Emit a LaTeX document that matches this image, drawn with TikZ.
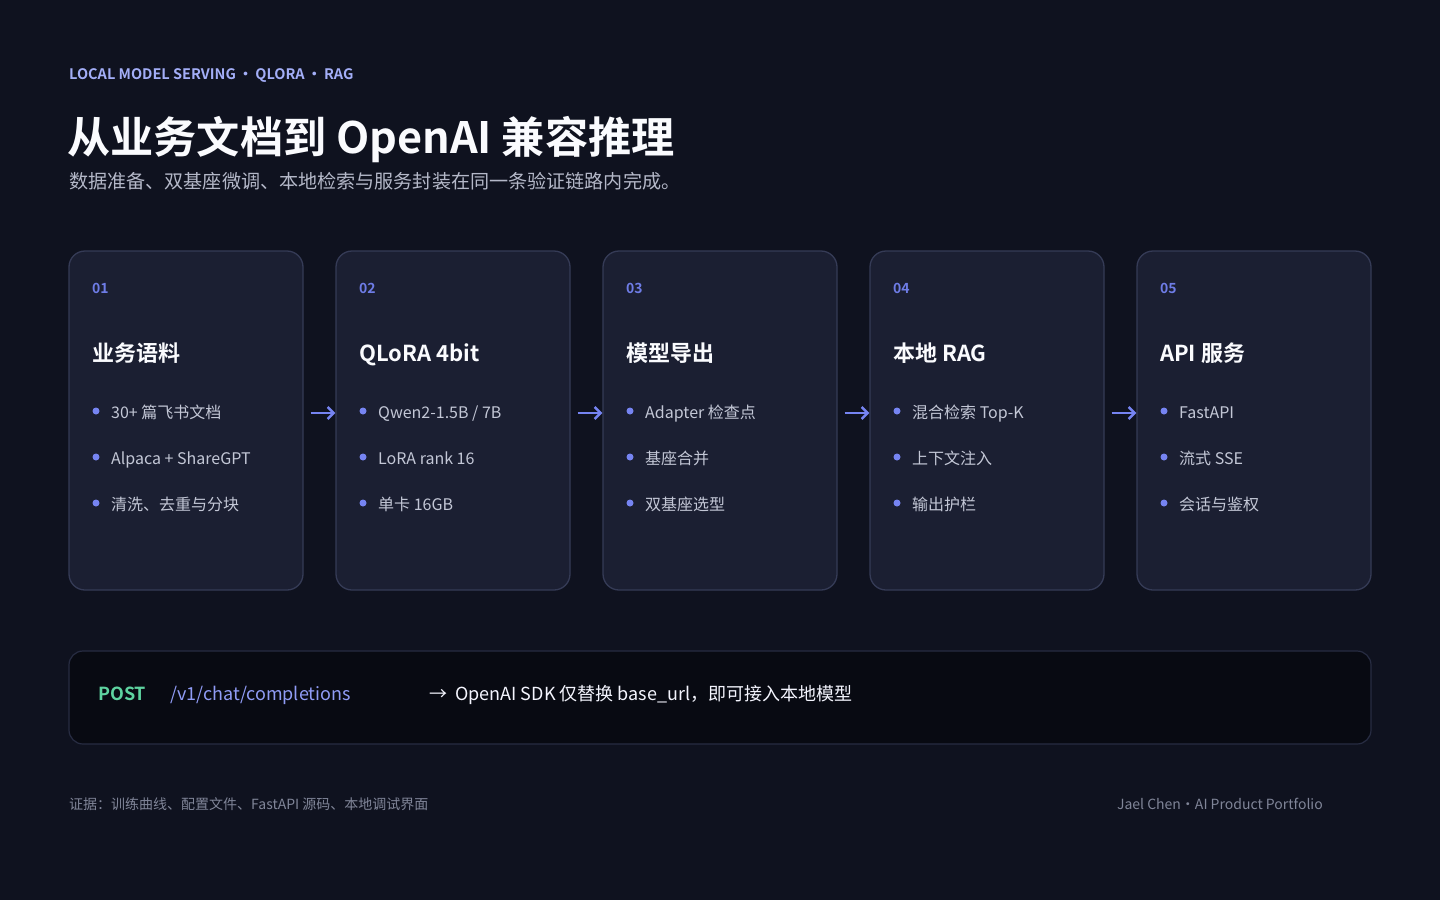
\documentclass[tikz,border=0pt]{standalone}
\usepackage{fontspec}
\setmainfont{Noto Sans CJK SC}[BoldFont={Noto Sans CJK SC Bold}]
\usetikzlibrary{arrows.meta}

\definecolor{pagebg}{HTML}{0F121F}
\definecolor{cardbg}{HTML}{1B1F32}
\definecolor{cardline}{HTML}{353B56}
\definecolor{barbg}{HTML}{080A12}
\definecolor{barline}{HTML}{272C42}
\definecolor{kicker}{HTML}{A3AEF7}
\definecolor{subgray}{HTML}{B4B8C8}
\definecolor{numblue}{HTML}{6E7CE6}
\definecolor{dotblue}{HTML}{7684F2}
\definecolor{itemgray}{HTML}{C3C7D6}
\definecolor{postgreen}{HTML}{5ED3A0}
\definecolor{pathblue}{HTML}{909CF6}
\definecolor{footgray}{HTML}{808598}

\begin{document}
\begin{tikzpicture}[
		x=1pt, y=-1pt,
		txt/.style = {anchor=base west, inner sep=0pt},
		kick/.style = {txt, text=kicker, font=\fontsize{14.5}{16}\selectfont\bfseries},
		ttl/.style = {txt, text=white!95!kicker, font=\fontsize{43.2}{50}\selectfont\bfseries},
		sub/.style = {txt, text=subgray, font=\fontsize{19.1}{22}\selectfont},
		card/.style = {rectangle, rounded corners=16pt, draw=cardline, fill=cardbg, line width=1.3pt, minimum width=234pt, minimum height=339pt},
		num/.style = {txt, text=numblue, font=\fontsize{14}{16}\selectfont\bfseries},
		head/.style = {txt, text=white!95!kicker, font=\fontsize{22}{26}\selectfont\bfseries},
		item/.style = {txt, text=itemgray, font=\fontsize{16}{19}\selectfont},
		dot/.style = {circle, fill=dotblue, inner sep=0pt, minimum size=7pt},
		r/.style = {-{Straight Barb[length=6pt,width=12pt]}, line width=2.4pt, draw=dotblue, shorten <=7pt},
		bar/.style = {rectangle, rounded corners=14pt, draw=barline, fill=barbg, line width=1.2pt, minimum width=1302pt, minimum height=93pt},
		foot/.style = {txt, text=footgray, font=\fontsize{14}{16}\selectfont}
		]
		
		\fill[pagebg] (0,0) rectangle (1440,900);
		\useasboundingbox (0,0) rectangle (1440,900);
		
		%Header
		\node[kick]	(kick)	at	(69, 79)	{LOCAL MODEL SERVING\hspace{2.5pt}·\hspace{2.5pt}QLORA\hspace{2.5pt}·\hspace{2.5pt}RAG};
		\node[ttl]	(title)	at	(67, 153)	{从业务文档到 OpenAI 兼容推理};
		\node[sub]	(lead)	at	(69, 188)	{数据准备、双基座微调、本地检索与服务封装在同一条验证链路内完成。};
		
		%Cards
		\node[card]	(c1)	at	(186, 420.5)	{};
		\node[card]	(c2)	at	(453, 420.5)	{};
		\node[card]	(c3)	at	(720, 420.5)	{};
		\node[card]	(c4)	at	(987, 420.5)	{};
		\node[card]	(c5)	at	(1254, 420.5)	{};
		
		%Card 1
		\node[num]	(n1)	at	(92, 293)	{01};
		\node[head]	(h1)	at	(92, 361)	{业务语料};
		\node[dot]	(d11)	at	(96, 411)	{};
		\node[dot]	(d12)	at	(96, 457)	{};
		\node[dot]	(d13)	at	(96, 503)	{};
		\node[item]	(i11)	at	(111, 418.5)	{30+ 篇飞书文档};
		\node[item]	(i12)	at	(111, 464.5)	{Alpaca + ShareGPT};
		\node[item]	(i13)	at	(111, 510.5)	{清洗、去重与分块};
		
		%Card 2
		\node[num]	(n2)	at	(359, 293)	{02};
		\node[head]	(h2)	at	(359, 361)	{QLoRA 4bit};
		\node[dot]	(d21)	at	(363, 411)	{};
		\node[dot]	(d22)	at	(363, 457)	{};
		\node[dot]	(d23)	at	(363, 503)	{};
		\node[item]	(i21)	at	(378, 418.5)	{Qwen2-1.5B / 7B};
		\node[item]	(i22)	at	(378, 464.5)	{LoRA rank 16};
		\node[item]	(i23)	at	(378, 510.5)	{单卡 16GB};
		
		%Card 3
		\node[num]	(n3)	at	(626, 293)	{03};
		\node[head]	(h3)	at	(626, 361)	{模型导出};
		\node[dot]	(d31)	at	(630, 411)	{};
		\node[dot]	(d32)	at	(630, 457)	{};
		\node[dot]	(d33)	at	(630, 503)	{};
		\node[item]	(i31)	at	(645, 418.5)	{Adapter 检查点};
		\node[item]	(i32)	at	(645, 464.5)	{基座合并};
		\node[item]	(i33)	at	(645, 510.5)	{双基座选型};
		
		%Card 4
		\node[num]	(n4)	at	(893, 293)	{04};
		\node[head]	(h4)	at	(893, 361)	{本地 RAG};
		\node[dot]	(d41)	at	(897, 411)	{};
		\node[dot]	(d42)	at	(897, 457)	{};
		\node[dot]	(d43)	at	(897, 503)	{};
		\node[item]	(i41)	at	(912, 418.5)	{混合检索 Top-K};
		\node[item]	(i42)	at	(912, 464.5)	{上下文注入};
		\node[item]	(i43)	at	(912, 510.5)	{输出护栏};
		
		%Card 5
		\node[num]	(n5)	at	(1160, 293)	{05};
		\node[head]	(h5)	at	(1160, 361)	{API 服务};
		\node[dot]	(d51)	at	(1164, 411)	{};
		\node[dot]	(d52)	at	(1164, 457)	{};
		\node[dot]	(d53)	at	(1164, 503)	{};
		\node[item]	(i51)	at	(1179, 418.5)	{FastAPI};
		\node[item]	(i52)	at	(1179, 464.5)	{流式 SSE};
		\node[item]	(i53)	at	(1179, 510.5)	{会话与鉴权};
		
		%Lines
		\draw[r]	([yshift=7.5pt]c1.east)	--	([yshift=7.5pt]c2.west);
		\draw[r]	([yshift=7.5pt]c2.east)	--	([yshift=7.5pt]c3.west);
		\draw[r]	([yshift=7.5pt]c3.east)	--	([yshift=7.5pt]c4.west);
		\draw[r]	([yshift=7.5pt]c4.east)	--	([yshift=7.5pt]c5.west);
		
		%API bar
		\node[bar]	(api)	at	(720, 697.5)	{};
		\node[txt, text=postgreen, font=\fontsize{18}{22}\selectfont\bfseries]	(post)	at	(98, 700)	{POST};
		\node[txt, text=pathblue, font=\fontsize{18}{22}\selectfont]	(path)	at	(170, 700)	{/v1/chat/completions};
		\node[txt, text=white!88!kicker, font=\fontsize{18}{22}\selectfont]	(note)	at	(429, 700)	{→\hspace{4pt} OpenAI SDK 仅替换 base\_url，即可接入本地模型};
		
		%Footer
		\node[foot]	(src)	at	(69, 809)	{证据：训练曲线、配置文件、FastAPI 源码、本地调试界面};
		\node[foot, anchor=base east]	(sign)	at	(1323, 809)	{Jael Chen·AI Product Portfolio};
	\end{tikzpicture}
\end{document}
